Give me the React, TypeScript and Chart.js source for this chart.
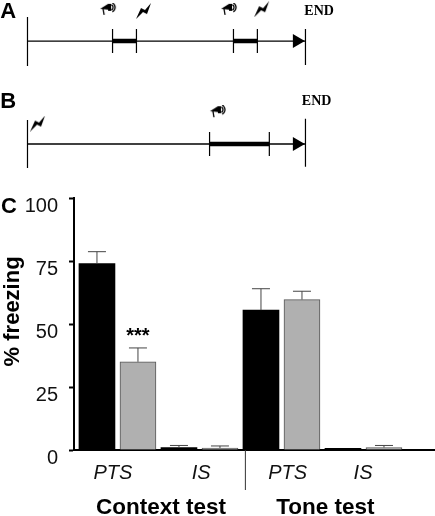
import React, { useEffect, useRef } from "react";
import { Chart, registerables } from "chart.js";

Chart.register(...registerables);

const SANS = '"Liberation Sans", Arial, sans-serif';
const SERIF = '"Liberation Serif", "Times New Roman", serif';

// Panel C data
const blackPositions = [1, 3, 5, 7];
const grayPositions = [2, 4, 6, 8];
const blackValues = [74, 1, 55.5, 0.7];
const grayValues = [35, 0.8, 59.7, 1];
const blackErrorTops = [78.7, 1.8, 64, 0.7];
const grayErrorTops = [40.5, 1.6, 63, 1.8];
const yTicks = [0, 25, 50, 75, 100];
const xTickPositions = [1.39, 3.54, 5.65, 7.49];
const xTickLabels = ["PTS", "IS", "PTS", "IS"];
const groupPositions = [2.56, 6.57];
const groupLabels = ["Context test", "Tone test"];
const separatorPosition = 4.62;
const significancePosition = 2;
const significanceValue = 46.5;
const yTitle = "% freezing";
const yTitleValue = 55;

// Panels A and B: timelines (0 = start, 100 = end)
const aTones = [[30.6, 39.2], [74.1, 82.7]];
const aSpeakers = [29, 72.5];
const aShocks = [41.9, 84.4];
const bTones = [[65.5, 87]];
const bSpeakers = [68.5];
const bShocks = [3.8];

function makeSpeaker(): HTMLCanvasElement {
  const c = document.createElement("canvas");
  c.width = 18;
  c.height = 14;
  const g = c.getContext("2d")!;
  g.fillStyle = "#000";
  g.strokeStyle = "#000";
  g.lineWidth = 1.3;
  g.beginPath();
  g.moveTo(1, 6);
  g.lineTo(9, 1);
  g.lineTo(11, 7);
  g.closePath();
  g.fill();
  g.beginPath();
  g.moveTo(4, 6);
  g.lineTo(5, 12);
  g.stroke();
  g.fillRect(9, 1, 3, 7);
  for (const r of [3, 5]) {
    g.beginPath();
    g.arc(11, 4.5, r, -1.1, 1.1);
    g.stroke();
  }
  return c;
}

function makeShock(): HTMLCanvasElement {
  const c = document.createElement("canvas");
  c.width = 16;
  c.height = 16;
  const g = c.getContext("2d")!;
  g.fillStyle = "#000";
  g.beginPath();
  g.moveTo(0, 16);
  g.lineTo(5, 5);
  g.lineTo(9, 7);
  g.lineTo(15, 0);
  g.lineTo(11, 11);
  g.lineTo(7, 9);
  g.closePath();
  g.fill();
  return c;
}

const pairs = (segments: number[][], y0: number, y1: number) => {
  const out: any[] = [];
  for (const t of segments.flat()) {
    out.push({ x: t, y: y0 }, { x: t, y: y1 }, { x: t, y: null });
  }
  return out;
};

const textPlugin = (items: { text: string; font: string; x: number; y: number; color?: string; align?: CanvasTextAlign }[]) => ({
  id: "panelText",
  afterDraw(chart: any) {
    const { ctx, scales } = chart;
    ctx.save();
    ctx.textBaseline = "middle";
    for (const it of items) {
      ctx.font = it.font;
      ctx.fillStyle = it.color || "#000";
      ctx.textAlign = it.align || "center";
      ctx.fillText(it.text, scales.x.getPixelForValue(it.x), scales.y.getPixelForValue(it.y));
    }
    ctx.restore();
  },
});

function timelineConfig(opts: {
  tones: number[][];
  speakers: number[];
  shocks: number[];
  speakerY: number;
  shockY: number[];
  startTop: number;
  startBottom: number;
  endTop: number;
  endBottom: number;
  yMin: number;
  yMax: number;
  letter: string;
  letterY: number;
  endX: number;
  endY: number;
}) {
  const speaker = makeSpeaker();
  const shock = makeShock();
  const line = { type: "scatter", showLine: true, pointRadius: 0, borderColor: "#000", spanGaps: false, clip: false };
  return {
    type: "scatter",
    data: {
      datasets: [
        { ...line, label: "time", borderWidth: 1.3, data: [{ x: 0, y: 0 }, { x: 100, y: 0 }] },
        {
          ...line,
          label: "tone",
          borderWidth: 4.5,
          data: opts.tones.flatMap(([a, b]) => [{ x: a, y: 0 }, { x: b, y: 0 }, { x: b, y: null }]),
        },
        { ...line, label: "tone edges", borderWidth: 1.2, data: pairs(opts.tones, 1, -1) },
        {
          ...line,
          label: "bounds",
          borderWidth: 1.2,
          data: [
            { x: 0, y: opts.startTop },
            { x: 0, y: opts.startBottom },
            { x: 0, y: null },
            { x: 100, y: opts.endTop },
            { x: 100, y: opts.endBottom },
          ],
        },
        {
          label: "arrow",
          data: [{ x: 96.9, y: 0 }],
          pointStyle: "triangle",
          rotation: 90,
          pointRadius: 8,
          backgroundColor: "#000",
          borderWidth: 0,
        },
        {
          label: "speaker",
          data: opts.speakers.map((x) => ({ x, y: opts.speakerY })),
          pointStyle: speaker,
        },
        {
          label: "shock",
          data: opts.shocks.map((x, i) => ({ x, y: opts.shockY[i] })),
          pointStyle: shock,
        },
      ],
    },
    options: {
      animation: false,
      responsive: false,
      layout: { padding: 0, autoPadding: false },
      plugins: { legend: { display: false }, tooltip: { enabled: false } },
      scales: {
        x: { type: "linear", min: -9.89, max: 146.6, display: false },
        y: { type: "linear", min: opts.yMin, max: opts.yMax, display: false },
      },
    },
    plugins: [
      textPlugin([
        { text: opts.letter, font: `bold 22px ${SANS}`, x: -6.9, y: opts.letterY },
        { text: "END", font: `bold 14px ${SERIF}`, x: opts.endX, y: opts.endY },
      ]),
    ],
  };
}

const errorBars = {
  id: "errorBars",
  afterDatasetsDraw(chart: any) {
    const { ctx, scales } = chart;
    const draw = (xs: number[], vals: number[], tops: number[]) => {
      xs.forEach((x, i) => {
        if (tops[i] <= vals[i]) return;
        const px = scales.x.getPixelForValue(x);
        const y0 = scales.y.getPixelForValue(vals[i]);
        const y1 = scales.y.getPixelForValue(tops[i]);
        ctx.beginPath();
        ctx.moveTo(px, y0);
        ctx.lineTo(px, y1);
        ctx.moveTo(px - 9, y1);
        ctx.lineTo(px + 9, y1);
        ctx.stroke();
      });
    };
    ctx.save();
    ctx.strokeStyle = "#444";
    ctx.lineWidth = 1;
    draw(blackPositions, blackValues, blackErrorTops);
    draw(grayPositions, grayValues, grayErrorTops);
    ctx.restore();
  },
};

const panelCExtras = {
  id: "panelCExtras",
  afterDraw(chart: any) {
    const { ctx, scales, chartArea } = chart;
    ctx.save();
    ctx.textBaseline = "middle";
    ctx.textAlign = "center";
    ctx.fillStyle = "#000";
    ctx.font = `bold 22.5px ${SANS}`;
    groupLabels.forEach((t, i) => {
      ctx.fillText(t, scales.x.getPixelForValue(groupPositions[i]), chartArea.bottom + 58);
    });
    ctx.font = `bold 20px ${SANS}`;
    ctx.fillText("***", scales.x.getPixelForValue(significancePosition), scales.y.getPixelForValue(significanceValue) + 4);
    ctx.font = `bold 22px ${SANS}`;
    ctx.fillText("C", 9, chartArea.top + 9);
    const sx = scales.x.getPixelForValue(separatorPosition);
    ctx.strokeStyle = "#333";
    ctx.lineWidth = 1;
    ctx.beginPath();
    ctx.moveTo(sx, chartArea.bottom);
    ctx.lineTo(sx, chartArea.bottom + 40);
    ctx.stroke();
    ctx.save();
    ctx.translate(13, scales.y.getPixelForValue(yTitleValue));
    ctx.rotate(-Math.PI / 2);
    ctx.font = `bold 22px ${SANS}`;
    ctx.fillText(yTitle, 0, 0);
    ctx.restore();
    ctx.restore();
  },
};

function panelCConfig() {
  return {
    type: "bar",
    data: {
      datasets: [
        {
          label: "black",
          data: blackPositions.map((x, i) => ({ x, y: blackValues[i] })),
          backgroundColor: "#000",
          borderWidth: 0,
          barThickness: 36,
          grouped: false,
        },
        {
          label: "gray",
          data: grayPositions.map((x, i) => ({ x, y: grayValues[i] })),
          backgroundColor: "#b0b0b0",
          borderColor: "#555",
          borderWidth: 1,
          barThickness: 36,
          grouped: false,
        },
      ],
    },
    options: {
      animation: false,
      responsive: false,
      layout: { padding: { top: 10, right: 1, bottom: 32, left: 0 }, autoPadding: false },
      plugins: { legend: { display: false }, tooltip: { enabled: false } },
      scales: {
        x: {
          type: "linear",
          offset: false,
          min: 0.44,
          max: 9.22,
          grid: { display: false },
          border: { color: "#000", width: 2 },
          afterBuildTicks: (scale: any) => {
            scale.ticks = xTickPositions.map((value) => ({ value }));
          },
          afterFit: (scale: any) => {
            scale.height = 34;
          },
          ticks: {
            autoSkip: false,
            maxRotation: 0,
            padding: 3,
            color: "#111",
            font: { family: SANS, size: 20, style: "italic" },
            callback: (v: number) => xTickLabels[xTickPositions.indexOf(v)],
          },
        },
        y: {
          min: 0,
          max: 100,
          afterBuildTicks: (scale: any) => {
            scale.ticks = yTicks.map((value) => ({ value }));
          },
          afterFit: (scale: any) => {
            scale.width = 74;
          },
          grid: { drawOnChartArea: false, drawTicks: true, tickLength: 5, tickColor: "#000", tickWidth: 2 },
          border: { color: "#000", width: 2 },
          ticks: {
            padding: 11,
            labelOffset: 8,
            color: "#111",
            font: { family: SANS, size: 20 },
          },
        },
      },
    },
    plugins: [errorBars, panelCExtras],
  };
}

const style = (top: number, height: number): React.CSSProperties => ({
  position: "absolute",
  left: 0,
  top,
  width: 435,
  height,
  display: "block",
});

export default function App() {
  const refA = useRef<HTMLCanvasElement>(null);
  const refB = useRef<HTMLCanvasElement>(null);
  const refC = useRef<HTMLCanvasElement>(null);
  useEffect(() => {
    const a = new Chart(
      refA.current!,
      timelineConfig({
        tones: aTones,
        speakers: aSpeakers,
        shocks: aShocks,
        speakerY: 2.6,
        shockY: [2.5, 2.65],
        startTop: 2,
        startBottom: -2.08,
        endTop: 1,
        endBottom: -2,
        yMin: -4.08,
        yMax: 3.42,
        letter: "A",
        letterY: 2.4,
        endX: 104.9,
        endY: 2.43,
      }) as any
    );
    const b = new Chart(
      refB.current!,
      timelineConfig({
        tones: bTones,
        speakers: bSpeakers,
        shocks: bShocks,
        speakerY: 2.65,
        shockY: [1.7],
        startTop: 2,
        startBottom: -2,
        endTop: 2.1,
        endBottom: -1.9,
        yMin: -3,
        yMax: 4.5,
        letter: "B",
        letterY: 3.5,
        endX: 104,
        endY: 3.55,
      }) as any
    );
    const c = new Chart(refC.current!, panelCConfig() as any);
    return () => {
      a.destroy();
      b.destroy();
      c.destroy();
    };
  }, []);
  return (
    <div style={{ position: "absolute", left: 0, top: 0, width: 435, height: 516, background: "#fff" }}>
      <canvas ref={refA} width={435} height={90} style={style(0, 90)} />
      <canvas ref={refB} width={435} height={90} style={style(90, 90)} />
      <canvas ref={refC} width={435} height={341} style={style(175, 341)} />
    </div>
  );
}
